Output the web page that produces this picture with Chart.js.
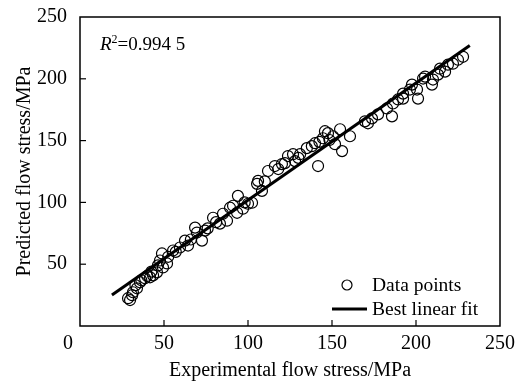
<!DOCTYPE html>
<html>
<head>
<meta charset="utf-8">
<script src="https://cdn.jsdelivr.net/npm/chart.js@4.4.0/dist/chart.umd.min.js"></script>
<style>
  html, body { margin: 0; padding: 0; background: #fff; }
  #wrap { width: 520px; height: 385px; }
</style>
</head>
<body>
<div id="wrap"><canvas id="chart"></canvas></div>
<script>
// experimental vs predicted flow stress (MPa)
const expX = [28.6, 29.8, 31, 31.5, 33.9, 35.7, 38.7, 41.7, 43.5, 45.8, 46.4, 49.4, 51.8, 48.8, 47.6,
  55.4, 59.5, 62.5, 64.3, 69.6, 68.5, 72.6, 74.4, 79.2, 83.3, 87.5, 85.1, 89.3, 91.1, 93.5,
  94, 97, 100, 102.4, 105.4, 106, 108.3, 111.9, 116, 120.2, 122, 123.8, 126.8, 128, 131,
  135, 138, 139.9, 141.7, 144.6, 145.8, 147.6, 150.6, 151.8, 154.8, 156, 160.7, 169.6, 171.4,
  173.8, 177.4, 182.7, 185.7, 186.3, 189.3, 192.3, 192.3, 196.4, 197.6, 201.2, 200.6, 204.2,
  205.4, 209.5, 210.1, 213.1, 214.3, 217.3, 219, 222, 225, 228,
  33, 36.5, 40, 42.5, 52.5, 57, 66, 76, 81, 98, 110, 118, 130, 142.5, 148.5];
const predY = [22.5, 21, 24.9, 27.3, 30.5, 35.4, 38.6, 39.4, 41, 43.4, 49, 47.4, 50.6, 58.7, 53,
  61.1, 63.5, 69.1, 65.1, 75.6, 79.6, 69.1, 77.2, 87.6, 82.8, 85.2, 90.8, 95.7, 97.3, 91.6,
  105.3, 94.9, 98.9, 99.7, 115, 117.4, 109.3, 125.4, 129.4, 131, 131.8, 137.5, 139, 133.4, 139,
  143.9, 145.5, 147.9, 129.4, 151.9, 157.6, 156, 153.5, 147.1, 159.2, 141.5, 153.5, 165.6, 164,
  168, 171.2, 176, 169.6, 180, 183.3, 184, 188, 191.3, 195.3, 184, 191.3, 200.2,
  201.8, 195.3, 199.4, 203.4, 208.2, 205.8, 211.4, 212.2, 215.4, 217.8,
  33, 37, 40.5, 44, 56, 60, 70, 79, 84, 100, 117, 127, 136, 149, 150.5];

// best linear fit end points
const fitX = [19, 232];
const fitY = [25, 227];

const axisTicks = [50, 100, 150, 200];
const r2Value = '0.994 5';
const xTitle = 'Experimental flow stress/MPa';
const yTitle = 'Predicted flow stress/MPa';
const seriesLabels = ['Data points', 'Best linear fit'];

const serif = 'Liberation Serif';

const framePlugin = {
  id: 'frame',
  afterDraw(chart) {
    const ctx = chart.ctx;
    const a = chart.chartArea;
    const xs = chart.scales.x, ys = chart.scales.y;
    ctx.save();
    ctx.strokeStyle = '#000';
    ctx.lineWidth = 1.5;
    ctx.strokeRect(a.left, a.top, a.right - a.left, a.bottom - a.top);
    // inward tick marks
    ctx.lineWidth = 1.2;
    axisTicks.forEach(v => {
      const py = ys.getPixelForValue(v);
      ctx.beginPath(); ctx.moveTo(a.left, py); ctx.lineTo(a.left + 6, py); ctx.stroke();
      const px = xs.getPixelForValue(v);
      ctx.beginPath(); ctx.moveTo(px, a.bottom); ctx.lineTo(px, a.bottom - 6); ctx.stroke();
    });
    // shared zero at the corner
    ctx.fillStyle = '#000';
    ctx.font = '20px "' + serif + '"';
    ctx.textAlign = 'center';
    ctx.textBaseline = 'middle';
    ctx.fillText('0', a.left - 12, a.bottom + 18);

    // R^2 annotation
    ctx.textAlign = 'left';
    ctx.textBaseline = 'alphabetic';
    let x = a.left + 20, y = a.top + 33;
    ctx.font = 'italic 19px "' + serif + '"';
    ctx.fillText('R', x, y);
    x += ctx.measureText('R').width;
    ctx.font = '12px "' + serif + '"';
    ctx.fillText('2', x, y - 7);
    x += ctx.measureText('2').width;
    ctx.font = '19px "' + serif + '"';
    ctx.fillText('=' + r2Value, x, y);

    // legend, lower right inside the frame
    const lx = a.left + 292;
    ctx.font = '19.5px "' + serif + '"';
    ctx.lineWidth = 1.2;
    ctx.beginPath(); ctx.arc(lx - 25, a.top + 268, 5, 0, Math.PI * 2); ctx.stroke();
    ctx.fillText(seriesLabels[0], lx, a.top + 274);
    ctx.lineWidth = 3;
    ctx.beginPath(); ctx.moveTo(lx - 40, a.top + 292); ctx.lineTo(lx - 5, a.top + 292); ctx.stroke();
    ctx.fillText(seriesLabels[1], lx, a.top + 298);
    ctx.restore();
  }
};

const points = expX.map((v, i) => ({ x: v, y: predY[i] }));
const fitLine = fitX.map((v, i) => ({ x: v, y: fitY[i] }));

new Chart(document.getElementById('chart'), {
  type: 'scatter',
  data: {
    datasets: [{
      label: seriesLabels[0],
      data: points,
      pointStyle: 'circle',
      pointRadius: 5.5,
      pointBorderWidth: 1.2,
      pointBorderColor: '#000',
      pointBackgroundColor: 'rgba(0,0,0,0)',
      order: 2
    }, {
      type: 'line',
      label: seriesLabels[1],
      data: fitLine,
      borderColor: '#000',
      borderWidth: 3,
      pointRadius: 0,
      fill: false,
      order: 1
    }]
  },
  options: {
    responsive: true,
    maintainAspectRatio: false,
    animation: false,
    layout: { padding: { top: 15, right: 20, left: 0, bottom: 0 } },
    plugins: {
      legend: { display: false },
      tooltip: { enabled: false }
    },
    scales: {
      x: {
        type: 'linear',
        min: 0, max: 250,
        grid: { display: false },
        border: { display: false },
        ticks: {
          stepSize: 50,
          padding: -2,
          color: '#000',
          font: { family: serif, size: 20 },
          callback: v => v === 0 ? '' : v
        },
        title: {
          display: true, text: xTitle, color: '#000',
          font: { family: serif, size: 20 },
          padding: { top: 0, bottom: 2 }
        },
        afterFit(scale) { scale.height = 59; }
      },
      y: {
        min: 0, max: 250,
        grid: { display: false },
        border: { display: false },
        ticks: {
          stepSize: 50,
          padding: 5,
          color: '#000',
          font: { family: serif, size: 20 },
          callback: v => v === 0 ? '' : v
        },
        title: {
          display: true, text: yTitle, color: '#000',
          font: { family: serif, size: 20 },
          padding: { top: 13, bottom: 0 }
        },
        afterFit(scale) { scale.width = 80; }
      }
    }
  },
  plugins: [framePlugin]
});
</script>
</body>
</html>
